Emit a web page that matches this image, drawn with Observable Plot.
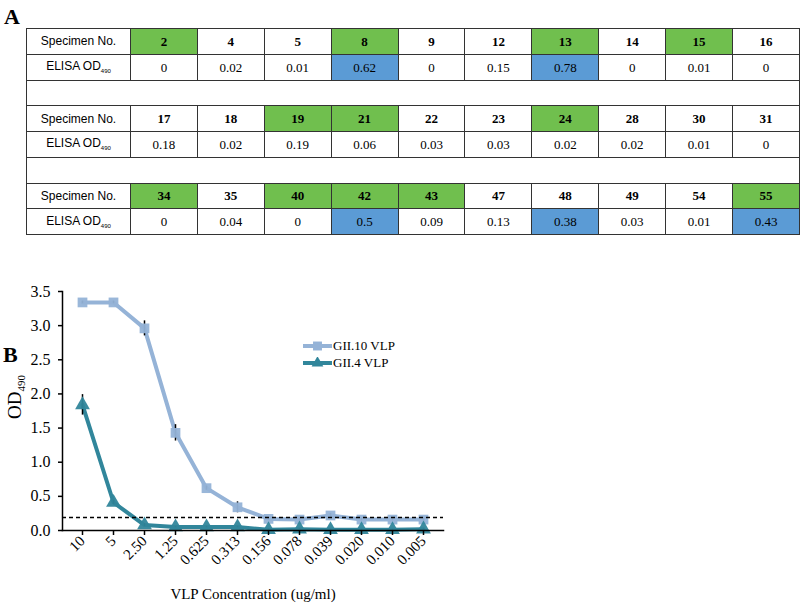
<!DOCTYPE html>
<html><head><meta charset="utf-8">
<script src="https://cdn.jsdelivr.net/npm/d3@7"></script>
<script src="https://cdn.jsdelivr.net/npm/@observablehq/plot@0.6"></script>
<style>
body{margin:0;background:#fff;}
#page{position:relative;width:800px;height:605px;overflow:hidden;font-family:"Liberation Serif",serif;color:#000;}
.panel{position:absolute;font-weight:bold;font-size:22px;font-family:"Liberation Serif",serif;line-height:1;}
table{position:absolute;left:26px;top:28px;border-collapse:collapse;table-layout:fixed;width:774px;}
td{border:1px solid #333;padding:0;text-align:center;font-size:13px;font-family:"Liberation Serif",serif;line-height:1;}
tr{height:25.75px;}
td.head{font-family:"Liberation Sans",sans-serif;font-size:12px;}
td.head sub{font-size:6px;vertical-align:-3px;}
td.spec{font-weight:bold;}
td.green{background:#70bf4e;}
td.blue{background:#5b9bd5;}
#chart{position:absolute;left:0;top:270px;}
#ylab{position:absolute;left:-16px;top:386px;width:64px;text-align:center;transform:rotate(-90deg);font-size:19px;font-family:"Liberation Serif",serif;line-height:1;}
#ylab sub{font-size:11px;vertical-align:-4px;}
#legend{position:absolute;left:303px;top:337px;font-size:13px;font-family:"Liberation Serif",serif;}
#legend .row{display:flex;align-items:center;height:17px;}
#legend svg{display:block;margin-right:1px;}
</style></head>
<body><div id="page">
<div class="panel" style="left:4px;top:6px;">A</div>
<div class="panel" style="left:3px;top:344px;">B</div>
<table id="tbl"><colgroup><col style="width:104px"></colgroup></table>
<div id="chart"></div>
<div id="ylab">OD<sub>490</sub></div>
<div id="legend"></div>
</div>
<script>
// ---- Panel A data ----
const specimens1 = [2, 4, 5, 8, 9, 12, 13, 14, 15, 16];
const od1 = [0, 0.02, 0.01, 0.62, 0, 0.15, 0.78, 0, 0.01, 0];
const specimens2 = [17, 18, 19, 21, 22, 23, 24, 28, 30, 31];
const od2 = [0.18, 0.02, 0.19, 0.06, 0.03, 0.03, 0.02, 0.02, 0.01, 0];
const specimens3 = [34, 35, 40, 42, 43, 47, 48, 49, 54, 55];
const od3 = [0, 0.04, 0, 0.5, 0.09, 0.13, 0.38, 0.03, 0.01, 0.43];
const greenSpecimens = [2, 8, 13, 15, 19, 21, 24, 34, 40, 42, 43, 55];
const blueCutoff = 0.2;

// ---- Panel B data ----
const concentrations = ["10","5","2.50","1.25","0.625","0.313","0.156","0.078","0.039","0.020","0.010","0.005"];
const seriesNames = ["GII.10 VLP", "GII.4 VLP"];
const gii10 = [3.34, 3.34, 2.96, 1.43, 0.62, 0.34, 0.17, 0.16, 0.22, 0.16, 0.16, 0.16];
const gii10Err = [0.02, 0.02, 0.11, 0.12, 0.03, 0.08, 0.02, 0.02, 0.03, 0.02, 0.02, 0.02];
const gii4 = [1.84, 0.41, 0.08, 0.05, 0.05, 0.05, 0.01, 0.02, 0.01, 0.01, 0.01, 0.02];
const gii4Err = [0.15, 0.03, 0.02, 0.01, 0.01, 0.01, 0.01, 0.01, 0.01, 0.01, 0.01, 0.01];
const cutoff = 0.19;
const colors = ["#95b3d7", "#31869b"];
const symbols = ["square", "triangle"];

// ---- Table ----
const tbl = document.getElementById("tbl");
const blocks = [[specimens1, od1], [specimens2, od2], [specimens3, od3]];
blocks.forEach(([sp, od], bi) => {
  const r1 = tbl.insertRow();
  const h1 = r1.insertCell(); h1.className = "head"; h1.textContent = "Specimen No.";
  sp.forEach(s => { const c = r1.insertCell(); c.className = "spec" + (greenSpecimens.includes(s) ? " green" : ""); c.textContent = s; });
  const r2 = tbl.insertRow();
  const h2 = r2.insertCell(); h2.className = "head"; h2.innerHTML = "ELISA OD<sub>490</sub>";
  od.forEach(v => { const c = r2.insertCell(); if (v >= blueCutoff) c.className = "blue"; c.textContent = String(v); });
  if (bi < blocks.length - 1) { const r3 = tbl.insertRow(); const c = r3.insertCell(); c.colSpan = 11; }
});

// ---- Chart ----
const data = [];
concentrations.forEach((c, i) => {
  data.push({conc: c, od: gii10[i], err: gii10Err[i], series: seriesNames[0]});
});
concentrations.forEach((c, i) => {
  data.push({conc: c, od: gii4[i], err: gii4Err[i], series: seriesNames[1]});
});

const chart = Plot.plot({
  width: 460, height: 335,
  marginLeft: 62, marginRight: 17, marginTop: 21, marginBottom: 75,
  style: {fontFamily: "Liberation Serif, serif", color: "#000", background: "transparent"},
  x: {type: "point", domain: concentrations, padding: 0.5},
  y: {domain: [0, 3.5]},
  color: {domain: seriesNames, range: colors},
  symbol: {domain: seriesNames, range: symbols},
  marks: [
    Plot.line(data, {x: "conc", y: "od", stroke: "series", strokeWidth: 4, strokeLinejoin: "round"}),
    Plot.ruleX(data, {x: "conc", y1: d => d.od - d.err, y2: d => d.od + d.err, stroke: "#000", strokeWidth: 1.5}),
    Plot.dot(data, {x: "conc", y: "od", symbol: "series", fill: "series", r: 5.5, fillOpacity: 0.95}),
    Plot.ruleY([cutoff], {stroke: "#000", strokeWidth: 1.5, strokeDasharray: "4,3"}),
    Plot.axisY({ticks: d3.range(0, 3.51, 0.5), tickFormat: d3.format(".1f"), tickSize: 4, tickPadding: 8, label: null, fontSize: 16, strokeWidth: 1.5}),
    Plot.axisX({tickSize: 5, tickPadding: 3, tickRotate: -45, label: null, fontSize: 15, strokeWidth: 1.5}),
    Plot.axisX({ticks: [], tickSize: 0, label: "VLP Concentration (ug/ml)", labelAnchor: "center", labelOffset: 68, fontSize: 15}),
    Plot.frame({anchor: "left", strokeWidth: 1.5}),
    Plot.frame({anchor: "bottom", strokeWidth: 1.5})
  ]
});
document.getElementById("chart").appendChild(chart);

// ---- Legend ----
const legend = document.getElementById("legend");
seriesNames.forEach((name, i) => {
  const row = document.createElement("div"); row.className = "row";
  const ns = "http://www.w3.org/2000/svg";
  const svg = document.createElementNS(ns, "svg");
  svg.setAttribute("width", 29); svg.setAttribute("height", 12);
  const line = document.createElementNS(ns, "line");
  line.setAttribute("x1", 0); line.setAttribute("x2", 29); line.setAttribute("y1", 6); line.setAttribute("y2", 6);
  line.setAttribute("stroke", colors[i]); line.setAttribute("stroke-width", 4);
  svg.appendChild(line);
  const sym = document.createElementNS(ns, "path");
  sym.setAttribute("d", (symbols[i] === "square" ? d3.symbol(d3.symbolSquare, 80) : d3.symbol(d3.symbolTriangle, 60))());
  sym.setAttribute("transform", "translate(14.5,6)");
  sym.setAttribute("fill", colors[i]);
  svg.appendChild(sym);
  const txt = document.createElement("span"); txt.textContent = name;
  row.appendChild(svg); row.appendChild(txt);
  legend.appendChild(row);
});
</script>
</body></html>
